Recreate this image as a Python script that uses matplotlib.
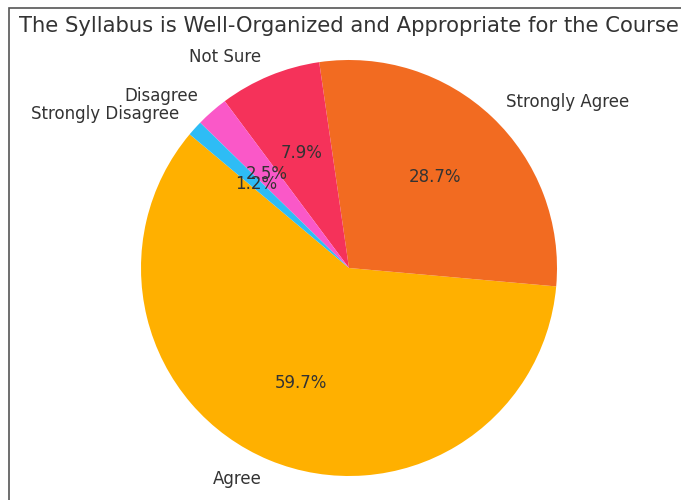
import matplotlib
matplotlib.use("Agg")
from matplotlib import pyplot as plt
from matplotlib.patches import Rectangle

# Survey answers
labels = ['Agree', 'Strongly Agree', 'Not Sure', 'Disagree', 'Strongly Disagree']
shares = [59.7, 28.7, 7.9, 2.5, 1.2]
colors = ['#FFB000', '#F26B21', '#F5325A', '#FA58C8', '#2EBCF5']
title = 'The Syllabus is Well-Organized and Appropriate for the Course'

text_col = '#333333'

fig = plt.figure(figsize=(6.81, 5.0), dpi=100)
ax = fig.add_axes([141 / 681, 24 / 500, 416 / 681, 416 / 500])

ax.pie(shares, labels=labels, colors=colors, autopct='%1.1f%%',
       startangle=140, labeldistance=1.1, pctdistance=0.6,
       textprops={'color': text_col, 'fontsize': 12})
ax.set_xlim(-1, 1)
ax.set_ylim(-1, 1)
ax.set_aspect('equal')

fig.text(349 / 681, 1 - 26 / 500, title, ha='center', va='center',
         fontsize=15.2, color=text_col)

# frame of the (cropped) figure
fig.patches.append(Rectangle((9 / 681, -0.1), 1.2, 1 - 8 / 500 + 0.1,
                             transform=fig.transFigure, fill=False,
                             edgecolor='#555555', linewidth=1.2))

fig.savefig('out.png', dpi=100)
